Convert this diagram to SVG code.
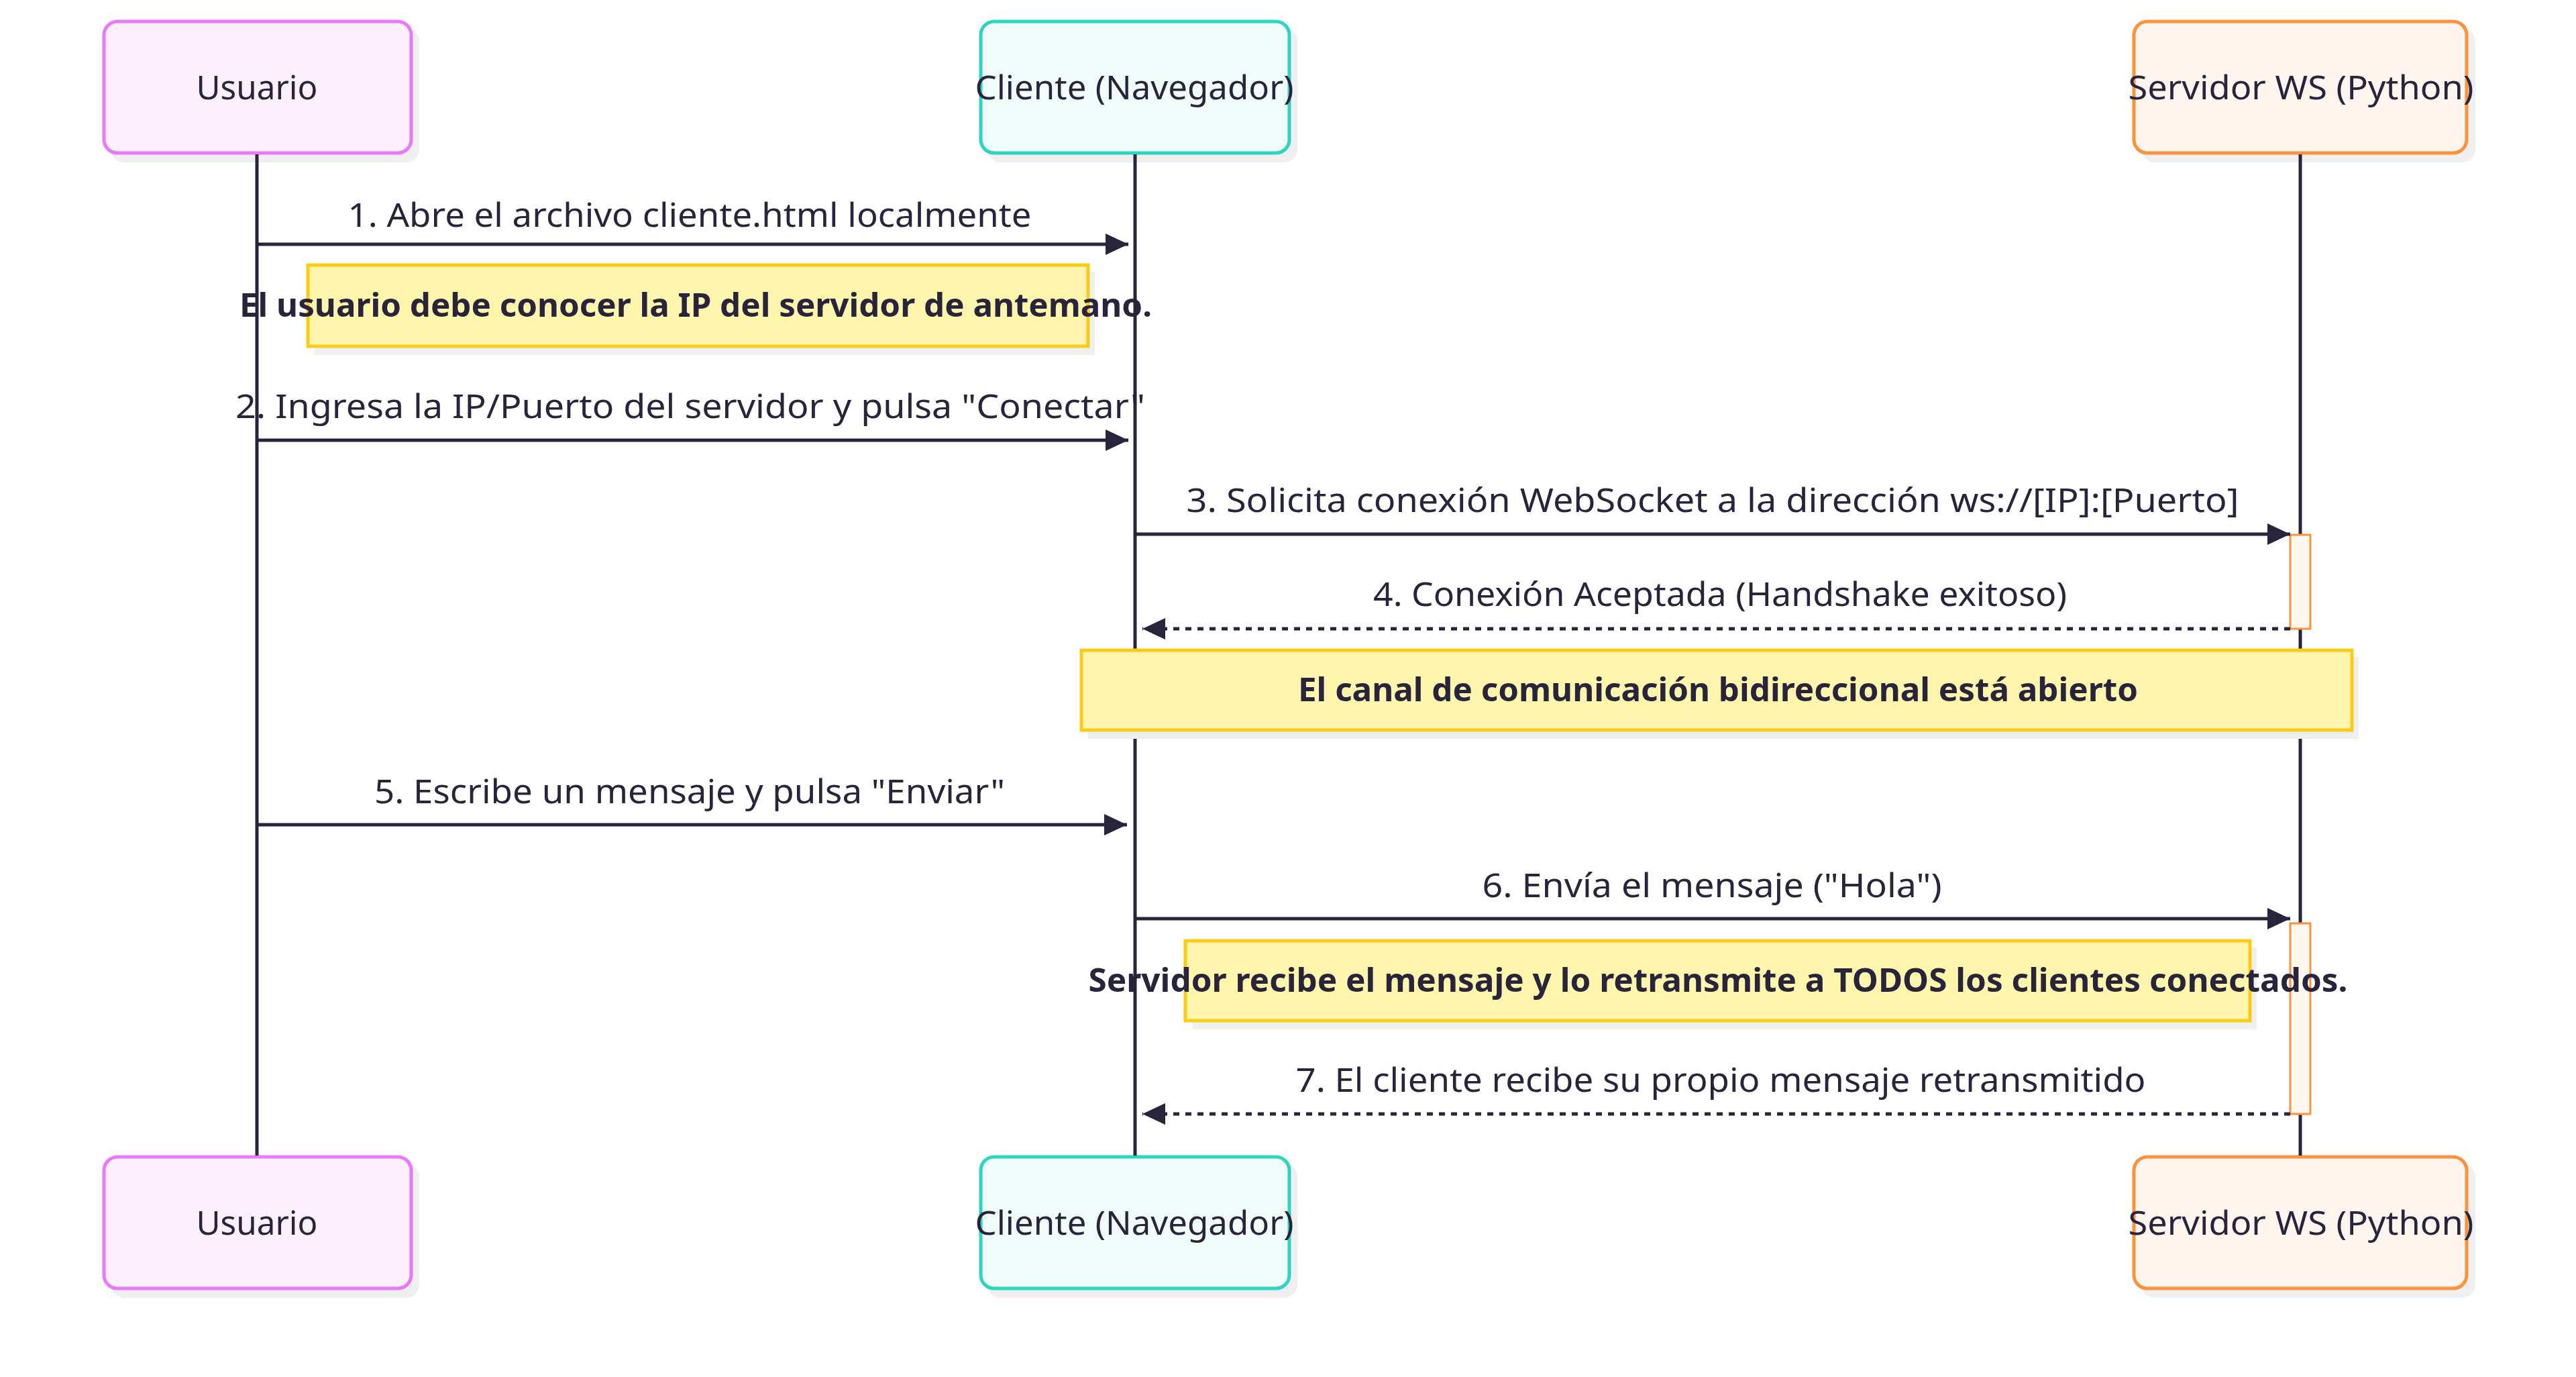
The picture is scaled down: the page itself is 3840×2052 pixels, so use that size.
<svg xmlns="http://www.w3.org/2000/svg" width="3840" height="2052" viewBox="0 0 3840 2052">
  <style>
    .lbl { font-family: "Noto Sans", "Open Sans", sans-serif; font-size: 49px; fill: #28243c; text-anchor: middle; }
    .nt { font-family: "Noto Sans", "Open Sans", sans-serif; font-size: 49px; font-weight: bold; fill: #28243c; text-anchor: middle; }
    .life { stroke: #28243c; stroke-width: 5; fill: none; }
    .msg { stroke: #28243c; stroke-width: 5; fill: none; marker-end: url(#arrow); }
    .dash { stroke-dasharray: 9 9; }
    .shadow { fill: #efefef; }
    .note { fill: #fff5ad; stroke: #facc15; stroke-width: 5; }
    .act { fill: #fff7ed; stroke: #fb923c; stroke-width: 3; }
  </style>
  <defs>
    <marker id="arrow" markerUnits="userSpaceOnUse" markerWidth="34" markerHeight="32" refX="34" refY="16" orient="auto">
      <path d="M0,0 L34,16 L0,32 Z" fill="#28243c"/>
    </marker>
  </defs>
  <rect width="3840" height="2052" fill="#ffffff"/>

  <!-- actors top -->
  <g id="actor-usuario-top">
    <rect class="shadow" x="165" y="42" width="460" height="200" rx="20"/>
    <rect x="155" y="32" width="458" height="196" rx="20" fill="#fdf0fd" stroke="#e879f9" stroke-width="5"/>
    <text class="lbl" x="383" y="148" textLength="181" lengthAdjust="spacingAndGlyphs">Usuario</text>
  </g>
  <g id="actor-cliente-top">
    <rect class="shadow" x="1472" y="42" width="462" height="200" rx="20"/>
    <rect x="1462" y="32" width="460" height="196" rx="20" fill="#effcf9" stroke="#2dd4bf" stroke-width="5"/>
    <text class="lbl" x="1691" y="148" textLength="475" lengthAdjust="spacingAndGlyphs">Cliente (Navegador)</text>
  </g>
  <g id="actor-servidor-top">
    <rect class="shadow" x="3192" y="42" width="498" height="200" rx="20"/>
    <rect x="3181" y="32" width="496" height="196" rx="20" fill="#fef6ee" stroke="#fb923c" stroke-width="5"/>
    <text class="lbl" x="3430" y="148" textLength="515" lengthAdjust="spacingAndGlyphs">Servidor WS (Python)</text>
  </g>

  <!-- actors bottom -->
  <g id="actor-usuario-bottom">
    <rect class="shadow" x="165" y="1734" width="460" height="200" rx="20"/>
    <rect x="155" y="1724" width="458" height="196" rx="20" fill="#fdf0fd" stroke="#e879f9" stroke-width="5"/>
    <text class="lbl" x="383" y="1840" textLength="181" lengthAdjust="spacingAndGlyphs">Usuario</text>
  </g>
  <g id="actor-cliente-bottom">
    <rect class="shadow" x="1472" y="1734" width="462" height="200" rx="20"/>
    <rect x="1462" y="1724" width="460" height="196" rx="20" fill="#effcf9" stroke="#2dd4bf" stroke-width="5"/>
    <text class="lbl" x="1691" y="1840" textLength="475" lengthAdjust="spacingAndGlyphs">Cliente (Navegador)</text>
  </g>
  <g id="actor-servidor-bottom">
    <rect class="shadow" x="3192" y="1734" width="498" height="200" rx="20"/>
    <rect x="3181" y="1724" width="496" height="196" rx="20" fill="#fef6ee" stroke="#fb923c" stroke-width="5"/>
    <text class="lbl" x="3430" y="1840" textLength="515" lengthAdjust="spacingAndGlyphs">Servidor WS (Python)</text>
  </g>

  <!-- lifelines -->
  <g id="lifelines">
    <line class="life" x1="383" y1="230" x2="383" y2="1722"/>
    <line class="life" x1="1692" y1="230" x2="1692" y2="1722"/>
    <line class="life" x1="3429" y1="230" x2="3429" y2="1722"/>
  </g>

  <!-- activations -->
  <g id="activation-1">
    <rect class="act" x="3414" y="797" width="30" height="140"/>
  </g>
  <g id="activation-2">
    <rect class="act" x="3414" y="1376" width="30" height="284"/>
  </g>

  <!-- notes -->
  <g id="note-1">
    <rect class="shadow" x="469" y="405" width="1163" height="124"/>
    <rect class="note" x="459" y="395" width="1163" height="121"/>
    <text class="nt" x="1037" y="472" textLength="1360" lengthAdjust="spacingAndGlyphs">El usuario debe conocer la IP del servidor de antemano.</text>
  </g>
  <g id="note-2">
    <rect class="shadow" x="1622" y="979" width="1894" height="122"/>
    <rect class="note" x="1612" y="969" width="1894" height="119"/>
    <text class="nt" x="2561" y="1045" textLength="1252" lengthAdjust="spacingAndGlyphs">El canal de comunicación bidireccional está abierto</text>
  </g>
  <g id="note-3">
    <rect class="shadow" x="1777" y="1412" width="1587" height="122"/>
    <rect class="note" x="1767" y="1402" width="1587" height="119"/>
    <text class="nt" x="2561" y="1478" textLength="1877" lengthAdjust="spacingAndGlyphs">Servidor recibe el mensaje y lo retransmite a TODOS los clientes conectados.</text>
  </g>

  <!-- connectors -->
  <g id="connectors">
    <line class="msg" x1="383" y1="364" x2="1682" y2="364"/>
    <line class="msg" x1="383" y1="656" x2="1682" y2="656"/>
    <line class="msg" x1="1692" y1="796" x2="3414" y2="796"/>
    <line class="msg dash" x1="3414" y1="937" x2="1703" y2="937"/>
    <line class="msg" x1="383" y1="1229" x2="1680" y2="1229"/>
    <line class="msg" x1="1692" y1="1369" x2="3414" y2="1369"/>
    <line class="msg dash" x1="3414" y1="1660" x2="1703" y2="1660"/>
  </g>

  <!-- message labels -->
  <g id="message-labels">
    <text class="lbl" x="1028" y="338" textLength="1019" lengthAdjust="spacingAndGlyphs">1. Abre el archivo cliente.html localmente</text>
    <text class="lbl" x="1029" y="623" textLength="1356" lengthAdjust="spacingAndGlyphs">2. Ingresa la IP/Puerto del servidor y pulsa "Conectar"</text>
    <text class="lbl" x="2553" y="763" textLength="1569" lengthAdjust="spacingAndGlyphs">3. Solicita conexión WebSocket a la dirección ws://[IP]:[Puerto]</text>
    <text class="lbl" x="2564" y="903" textLength="1034" lengthAdjust="spacingAndGlyphs">4. Conexión Aceptada (Handshake exitoso)</text>
    <text class="lbl" x="1028" y="1197" textLength="940" lengthAdjust="spacingAndGlyphs">5. Escribe un mensaje y pulsa "Enviar"</text>
    <text class="lbl" x="2552" y="1337" textLength="685" lengthAdjust="spacingAndGlyphs">6. Envía el mensaje ("Hola")</text>
    <text class="lbl" x="2565" y="1627" textLength="1267" lengthAdjust="spacingAndGlyphs">7. El cliente recibe su propio mensaje retransmitido</text>
  </g>
</svg>
